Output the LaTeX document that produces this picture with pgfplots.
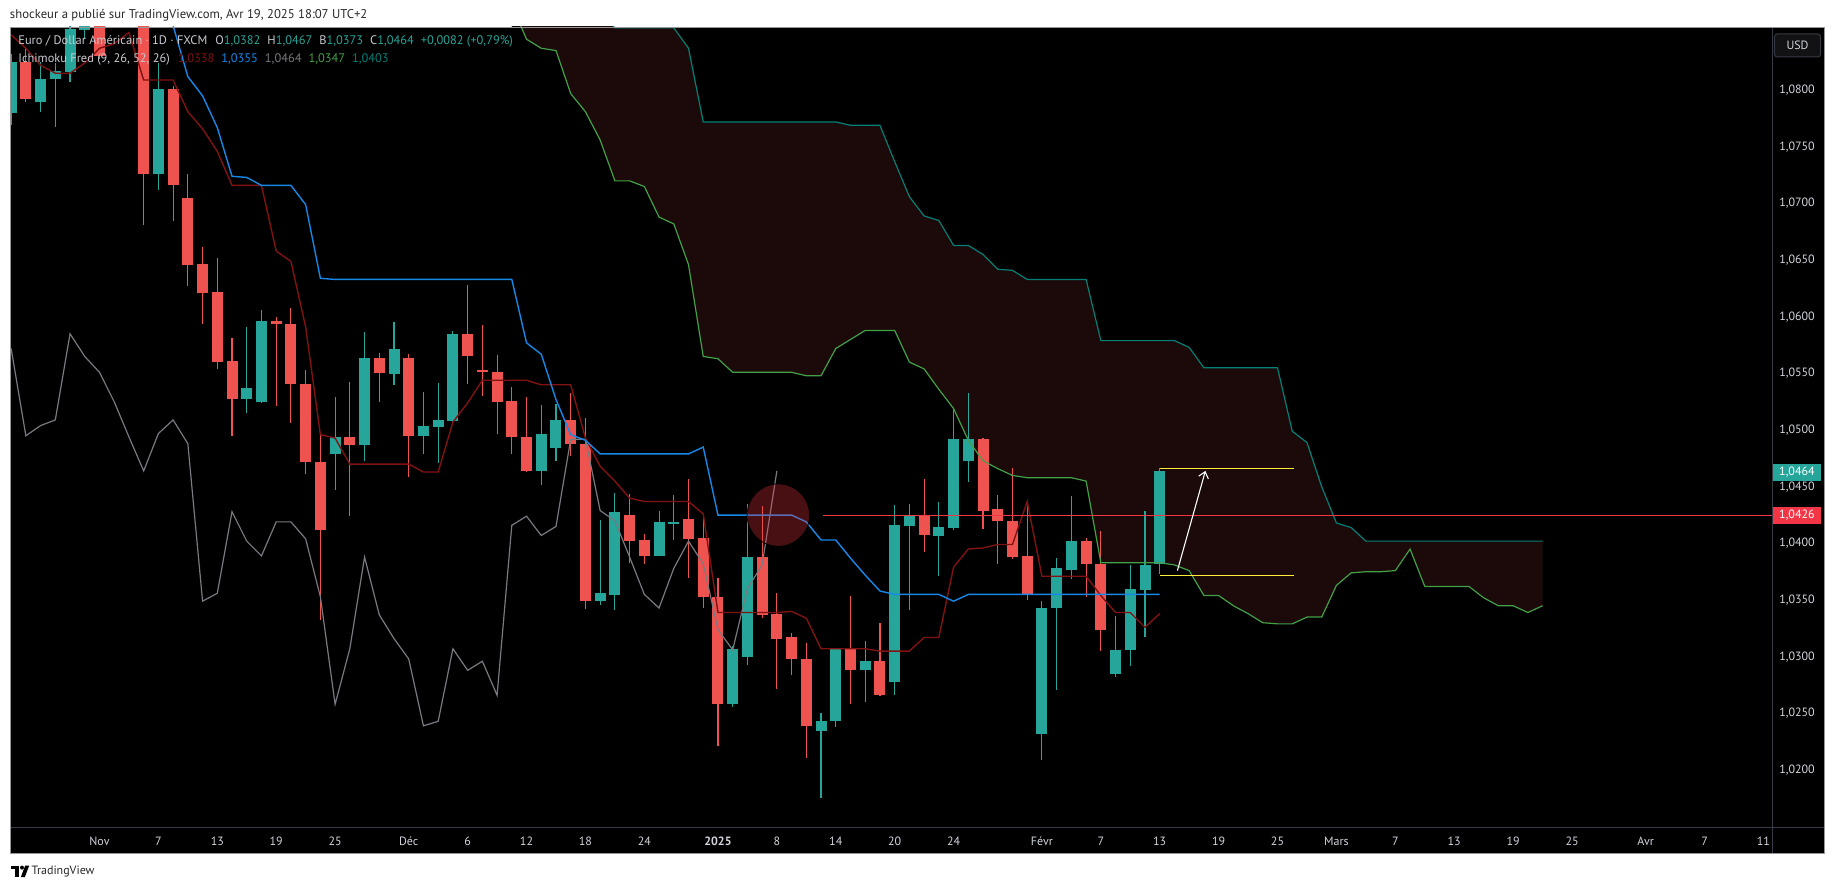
\documentclass[border=0pt]{standalone}
\usepackage{fontspec}
\setmainfont{PT Sans}
\usepackage{pgfplots}
\pgfplotsset{compat=1.18}
\usepackage{pgfplotstable}
\usetikzlibrary{arrows.meta}

\definecolor{upc}{RGB}{38,166,154}
\definecolor{dnc}{RGB}{239,83,80}
\definecolor{tenk}{RGB}{128,18,18}
\definecolor{kij}{RGB}{21,136,232}
\definecolor{chik}{RGB}{120,122,128}
\definecolor{spa}{RGB}{67,160,71}
\definecolor{spb}{RGB}{0,128,118}
\definecolor{cloud}{RGB}{28,9,9}
\definecolor{hline}{RGB}{242,54,69}
\definecolor{axtext}{RGB}{209,212,220}
\definecolor{sep}{RGB}{54,58,69}
\definecolor{frame}{RGB}{150,150,150}
\definecolor{lg}{RGB}{200,202,208}
\definecolor{yel}{RGB}{255,235,59}
\definecolor{hdr}{RGB}{40,40,44}

\pgfplotstableread{
i o h l c
-6 1.0780 1.0832 1.0769 1.0825
-4 1.0790 1.0825 1.0781 1.0810
-3 1.0810 1.0824 1.0768 1.0817
-2 1.0816 1.0862 1.0807 1.0854
-1 1.0853 1.0885 1.0845 1.0876
1 1.0865 1.0906 1.0860 1.0879
2 1.0879 1.0937 1.0866 1.0928
4 1.0726 1.0824 1.0712 1.0801
10 1.0528 1.0591 1.0515 1.0537
11 1.0525 1.0606 1.0524 1.0596
16 1.0479 1.0529 1.0447 1.0494
18 1.0487 1.0587 1.0473 1.0564
20 1.0550 1.0595 1.0540 1.0572
22 1.0495 1.0534 1.0479 1.0504
23 1.0503 1.0542 1.0471 1.0509
24 1.0508 1.0588 1.0505 1.0585
30 1.0464 1.0522 1.0452 1.0497
31 1.0484 1.0523 1.0473 1.0509
34 1.0349 1.0421 1.0346 1.0356
35 1.0355 1.0445 1.0341 1.0428
38 1.0389 1.0429 1.0389 1.0419
39 1.0418 1.0443 1.0403 1.0419
43 1.0258 1.0310 1.0256 1.0307
44 1.0300 1.0435 1.0293 1.0388
49 1.0234 1.0250 1.0175 1.0243
50 1.0243 1.0308 1.0238 1.0307
52 1.0288 1.0314 1.0260 1.0296
54 1.0278 1.0434 1.0266 1.0416
55 1.0415 1.0435 1.0341 1.0424
57 1.0407 1.0437 1.0371 1.0415
58 1.0414 1.0520 1.0412 1.0492
59 1.0473 1.0533 1.0454 1.0492
64 1.0232 1.0349 1.0209 1.0343
65 1.0343 1.0387 1.0271 1.0378
66 1.0377 1.0442 1.0369 1.0402
69 1.0285 1.0336 1.0282 1.0306
70 1.0306 1.0381 1.0292 1.0360
71 1.0359 1.0429 1.0317 1.0381
72 1.0382 1.0467 1.0373 1.0464
}\upT

\pgfplotstableread{
i o h l c
-5 1.0825 1.0838 1.0790 1.0792
0 1.0884 1.0905 1.0828 1.0830
3 1.0928 1.0937 1.0681 1.0726
5 1.0801 1.0804 1.0685 1.0716
6 1.0705 1.0726 1.0627 1.0646
7 1.0647 1.0662 1.0594 1.0621
8 1.0622 1.0652 1.0554 1.0560
9 1.0561 1.0581 1.0495 1.0528
12 1.0596 1.0600 1.0521 1.0594
13 1.0594 1.0608 1.0506 1.0541
14 1.0541 1.0553 1.0461 1.0472
15 1.0472 1.0496 1.0332 1.0412
17 1.0494 1.0543 1.0424 1.0487
19 1.0564 1.0568 1.0525 1.0550
21 1.0564 1.0567 1.0459 1.0495
25 1.0585 1.0628 1.0541 1.0565
26 1.0553 1.0593 1.0530 1.0551
27 1.0551 1.0566 1.0497 1.0525
28 1.0526 1.0538 1.0479 1.0494
29 1.0494 1.0529 1.0463 1.0464
32 1.0509 1.0533 1.0477 1.0488
33 1.0488 1.0511 1.0342 1.0349
36 1.0425 1.0444 1.0383 1.0402
37 1.0403 1.0408 1.0382 1.0389
40 1.0422 1.0457 1.0370 1.0404
41 1.0405 1.0423 1.0343 1.0353
42 1.0353 1.0370 1.0221 1.0258
45 1.0388 1.0433 1.0334 1.0337
46 1.0338 1.0356 1.0272 1.0316
47 1.0317 1.0321 1.0284 1.0298
48 1.0298 1.0312 1.0211 1.0239
51 1.0307 1.0354 1.0258 1.0288
53 1.0296 1.0330 1.0265 1.0266
56 1.0424 1.0457 1.0392 1.0407
60 1.0492 1.0493 1.0413 1.0429
61 1.0430 1.0443 1.0382 1.0420
62 1.0420 1.0467 1.0386 1.0388
63 1.0389 1.0434 1.0350 1.0355
67 1.0402 1.0405 1.0353 1.0382
68 1.0382 1.0411 1.0305 1.0324
}\dnT

\pgfplotstableread{
i v
-6 1.0849
-5 1.0837
-4 1.0822
-3 1.0815
-2 1.0815
-1 1.0824
0 1.0837
1 1.0841
2 1.0851
3 1.0809
4 1.0809
5 1.0809
6 1.0781
7 1.0766
8 1.0746
9 1.0716
10 1.0716
11 1.0716
12 1.0658
13 1.0649
14 1.0591
15 1.0496
16 1.0493
17 1.0470
18 1.0470
19 1.0470
20 1.0470
21 1.0470
22 1.0463
23 1.0463
24 1.0507
25 1.0524
26 1.0544
27 1.0544
28 1.0544
29 1.0544
30 1.0540
31 1.0540
32 1.0540
33 1.0493
34 1.0468
35 1.0455
36 1.0440
37 1.0437
38 1.0437
39 1.0437
40 1.0437
41 1.0426
42 1.0339
43 1.0339
44 1.0339
45 1.0339
46 1.0339
47 1.0340
48 1.0334
49 1.0307
50 1.0307
51 1.0307
52 1.0307
53 1.0305
54 1.0305
55 1.0305
56 1.0317
57 1.0317
58 1.0379
59 1.0395
60 1.0396
61 1.0399
62 1.0399
63 1.0437
64 1.0371
65 1.0371
66 1.0371
67 1.0371
68 1.0354
69 1.0339
70 1.0339
71 1.0326
72 1.0338
}\tenkanT

\pgfplotstableread{
i v
4 1.0880
5 1.0857
6 1.0812
7 1.0795
8 1.0767
9 1.0724
10 1.0723
11 1.0716
12 1.0716
13 1.0716
14 1.0699
15 1.0634
16 1.0633
17 1.0633
18 1.0633
19 1.0633
20 1.0633
21 1.0633
22 1.0633
23 1.0633
24 1.0633
25 1.0633
26 1.0633
27 1.0633
28 1.0633
29 1.0577
30 1.0567
31 1.0527
32 1.0496
33 1.0491
34 1.0479
35 1.0479
36 1.0479
37 1.0479
38 1.0479
39 1.0479
40 1.0479
41 1.0485
42 1.0425
43 1.0425
44 1.0425
45 1.0425
46 1.0425
47 1.0425
48 1.0419
49 1.0403
50 1.0403
51 1.0387
52 1.0372
53 1.0358
54 1.0355
55 1.0355
56 1.0355
57 1.0355
58 1.0349
59 1.0355
60 1.0355
61 1.0355
62 1.0355
63 1.0355
64 1.0355
65 1.0355
66 1.0355
67 1.0355
68 1.0355
69 1.0355
70 1.0355
71 1.0355
72 1.0355
}\kijunT

\pgfplotstableread{
i v
-6 1.0572
-5 1.0495
-4 1.0504
-3 1.0509
-2 1.0585
-1 1.0565
0 1.0551
1 1.0525
2 1.0494
3 1.0464
4 1.0497
5 1.0509
6 1.0488
7 1.0349
8 1.0356
9 1.0428
10 1.0402
11 1.0389
12 1.0419
13 1.0419
14 1.0404
15 1.0353
16 1.0258
17 1.0307
18 1.0388
19 1.0337
20 1.0316
21 1.0298
22 1.0239
23 1.0243
24 1.0307
25 1.0288
26 1.0296
27 1.0266
28 1.0416
29 1.0424
30 1.0407
31 1.0415
32 1.0492
33 1.0492
34 1.0429
35 1.0420
36 1.0388
37 1.0355
38 1.0343
39 1.0378
40 1.0402
41 1.0382
42 1.0324
43 1.0306
44 1.0360
45 1.0381
46 1.0464
}\chikouT

\pgfplotstableread{
i a b
28 1.0875 1.0890
29 1.0845 1.0890
30 1.0837 1.0890
31 1.0835 1.0890
32 1.0797 1.0890
33 1.0781 1.0890
34 1.0756 1.0870
35 1.0720 1.0855
36 1.0720 1.0855
37 1.0715 1.0855
38 1.0688 1.0855
39 1.0682 1.0855
40 1.0646 1.0837
41 1.0565 1.0772
42 1.0563 1.0772
43 1.0551 1.0772
44 1.0551 1.0772
45 1.0551 1.0772
46 1.0551 1.0772
47 1.0551 1.0772
48 1.0548 1.0772
49 1.0548 1.0772
50 1.0572 1.0772
51 1.0580 1.0769
52 1.0588 1.0769
53 1.0588 1.0769
54 1.0588 1.0737
55 1.0560 1.0706
56 1.0554 1.0689
57 1.0536 1.0685
58 1.0519 1.0663
59 1.0491 1.0663
60 1.0473 1.0655
61 1.0466 1.0642
62 1.0460 1.0641
63 1.0458 1.0633
64 1.0458 1.0633
65 1.0458 1.0633
66 1.0458 1.0633
67 1.0455 1.0633
68 1.0383 1.0579
69 1.0383 1.0579
70 1.0383 1.0579
71 1.0383 1.0579
72 1.0383 1.0579
73 1.0381 1.0579
74 1.0376 1.0573
75 1.0354 1.0555
76 1.0354 1.0555
77 1.0345 1.0555
78 1.0338 1.0555
79 1.0330 1.0555
80 1.0329 1.0555
81 1.0329 1.0499
82 1.0335 1.0489
83 1.0335 1.0450
84 1.0363 1.0418
85 1.0374 1.0414
86 1.0375 1.0402
87 1.0375 1.0402
88 1.0376 1.0402
89 1.0395 1.0402
90 1.0362 1.0402
91 1.0362 1.0402
92 1.0362 1.0402
93 1.0362 1.0402
94 1.0352 1.0402
95 1.0345 1.0402
96 1.0345 1.0402
97 1.0339 1.0402
98 1.0345 1.0402
}\spanT

\newcommand{\fsA}{\fontsize{6}{7}\selectfont}
\newcommand{\fsL}{\fontsize{6.2}{7.5}\selectfont}

\begin{document}
\begin{tikzpicture}
\fill[white] (0pt,0pt) rectangle (917.5pt,445pt);
\fill[black] (5pt,18pt) rectangle (912.5pt,431.5pt);
\begin{axis}[
  at={(5.35pt,31.5pt)}, anchor=south west,
  width=880.65pt, height=400pt, scale only axis,
  xmin=-6.03, xmax=113.58, ymin=1.01497, ymax=1.08558,
  axis line style={draw=none},
  major tick length=0pt,
  clip mode=individual,
  scaled y ticks=false,
  xtick={0,4,8,12,16,21,25,29,33,37,42,46,50,54,58,64,68,72,76,80,84,88,92,96,100,105,109,113},
  xticklabels={Nov,7,13,19,25,Déc,6,12,18,24,\textbf{2025},8,14,20,24,Févr,7,13,19,25,Mars,7,13,19,25,Avr,7,11},
  xticklabel style={font=\fsA, text=axtext, anchor=center, inner sep=0pt, yshift=-7pt},
  ytick={1.020,1.025,1.030,1.035,1.040,1.045,1.050,1.055,1.060,1.065,1.070,1.075,1.080},
  yticklabels={{1,0200},{1,0250},{1,0300},{1,0350},{1,0400},{1,0450},{1,0500},{1,0550},{1,0600},{1,0650},{1,0700},{1,0750},{1,0800}},
  yticklabel pos=right,
  yticklabel style={font=\fsA, text=axtext, anchor=center, inner sep=0pt, xshift=12.5pt},
]
% cloud: area under span B in cloud colour, then area under span A back to black
\addplot[fill=cloud, draw=none, forget plot] table[x=i, y=b] {\spanT} \closedcycle;
\addplot[fill=black, draw=none, forget plot] table[x=i, y=a] {\spanT} \closedcycle;
% candles: wicks
\addplot[draw=none, forget plot, error bars/.cd, y dir=both, y explicit, error mark=none,
  error bar style={draw=upc, line width=0.55pt}]
  table[x=i, y expr={(\thisrow{h}+\thisrow{l})/2}, y error expr={(\thisrow{h}-\thisrow{l})/2}] {\upT};
\addplot[draw=none, forget plot, error bars/.cd, y dir=both, y explicit, error mark=none,
  error bar style={draw=dnc, line width=0.55pt}]
  table[x=i, y expr={(\thisrow{h}+\thisrow{l})/2}, y error expr={(\thisrow{h}-\thisrow{l})/2}] {\dnT};
% candles: bodies
\addplot[draw=none, forget plot, error bars/.cd, y dir=both, y explicit, error mark=none,
  error bar style={draw=upc, line width=5.5pt}]
  table[x=i, y expr={(\thisrow{o}+\thisrow{c})/2}, y error expr={max(abs(\thisrow{c}-\thisrow{o})/2,0.00005)}] {\upT};
\addplot[draw=none, forget plot, error bars/.cd, y dir=both, y explicit, error mark=none,
  error bar style={draw=dnc, line width=5.5pt}]
  table[x=i, y expr={(\thisrow{o}+\thisrow{c})/2}, y error expr={max(abs(\thisrow{c}-\thisrow{o})/2,0.00005)}] {\dnT};
% ichimoku lines
\addplot[spb, line width=0.6pt] table[x=i, y=b] {\spanT};
\addplot[spa, line width=0.6pt] table[x=i, y=a] {\spanT};
\addplot[chik, line width=0.6pt] table[x=i, y=v] {\chikouT};
\addplot[tenk, line width=0.7pt] table[x=i, y=v] {\tenkanT};
\addplot[kij, line width=0.7pt] table[x=i, y=v] {\kijunT};
% drawings
\addplot[hline, line width=0.5pt] coordinates {(49.1,1.0425) (113.58,1.0425)};
\addplot[yel, line width=0.6pt] coordinates {(72,1.0466) (81.1,1.0466)};
\addplot[yel, line width=0.6pt] coordinates {(72,1.0372) (81.1,1.0372)};
\addplot[white, line width=0.55pt, -{Straight Barb[length=3pt,width=5pt]}] coordinates {(73.2,1.0376) (75.1,1.0464)};
\addplot[only marks, mark=*, mark size=15.6pt, mark options={fill=hline, draw=none, fill opacity=0.3}] coordinates {(46.1,1.0425)};
% price tags
\node[anchor=west, fill=upc, text=white, font=\fsA, inner sep=0pt, minimum width=24.5pt, minimum height=8.5pt] at (axis cs:113.58,1.0463) {1,0464};
\node[anchor=west, fill=hline, text=white, font=\fsA, inner sep=0pt, minimum width=24.5pt, minimum height=8.5pt] at (axis cs:113.58,1.0425) {1,0426};
\end{axis}
% separators and frame
\draw[sep, line width=0.5pt] (886pt,18pt) -- (886pt,431.5pt);
\draw[sep, line width=0.5pt] (5pt,31.5pt) -- (912.5pt,31.5pt);
\draw[frame, line width=0.5pt] (5.25pt,18.25pt) rectangle (912.25pt,431.25pt);
% USD box
\draw[rounded corners=1.5pt, fill={rgb,255:red,18;green,18;blue,20}, draw=sep, line width=0.5pt] (887.2pt,416.5pt) rectangle (910.3pt,428pt);
\node[font=\fsA, text=axtext] at (898.75pt,422.25pt) {USD};
% header
\node[anchor=west, inner sep=0pt, font=\fontsize{6.35}{7.5}\selectfont, text=hdr] at (4.8pt,437.5pt) {shockeur a publié sur TradingView.com, Avr 19, 2025 18:07 UTC+2};
% legend
\node[anchor=west, inner sep=0pt, font=\fsL] at (9pt,424.15pt) {\textcolor{lg}{Euro / Dollar Américain · 1D · FXCM}\hspace{4pt}\textcolor{lg}{O}\textcolor{upc}{1,0382}\hspace{3.5pt}\textcolor{lg}{H}\textcolor{upc}{1,0467}\hspace{3.5pt}\textcolor{lg}{B}\textcolor{upc}{1,0373}\hspace{3.5pt}\textcolor{lg}{C}\textcolor{upc}{1,0464}\hspace{3.5pt}\textcolor{upc}{+0,0082 (+0,79\%)}};
\node[anchor=west, inner sep=0pt, font=\fsL] at (9pt,415.35pt) {\textcolor{lg}{Ichimoku Fred (9, 26, 52, 26)}\hspace{4pt}\textcolor{tenk}{1,0338}\hspace{3.5pt}\textcolor{kij}{1,0355}\hspace{3.5pt}\textcolor{chik}{1,0464}\hspace{3.5pt}\textcolor{spa}{1,0347}\hspace{3.5pt}\textcolor{spb}{1,0403}};
% footer logo
\fill[black] (5.5pt,10.6pt) rectangle (9.6pt,12.2pt);
\fill[black] (7.6pt,6.4pt) rectangle (9.6pt,12.2pt);
\fill[black] (11pt,11.2pt) circle (1pt);
\fill[black] (12.6pt,12.2pt) -- (14.6pt,12.2pt) -- (12.4pt,6.4pt) -- (10.4pt,6.4pt) -- cycle;
\node[anchor=west, inner sep=0pt, font=\fontsize{6}{7}\selectfont, text=hdr] at (15.6pt,9.3pt) {TradingView};
\pgfresetboundingbox
\useasboundingbox (0pt,0pt) rectangle (917.5pt,445pt);
\end{tikzpicture}
\end{document}
